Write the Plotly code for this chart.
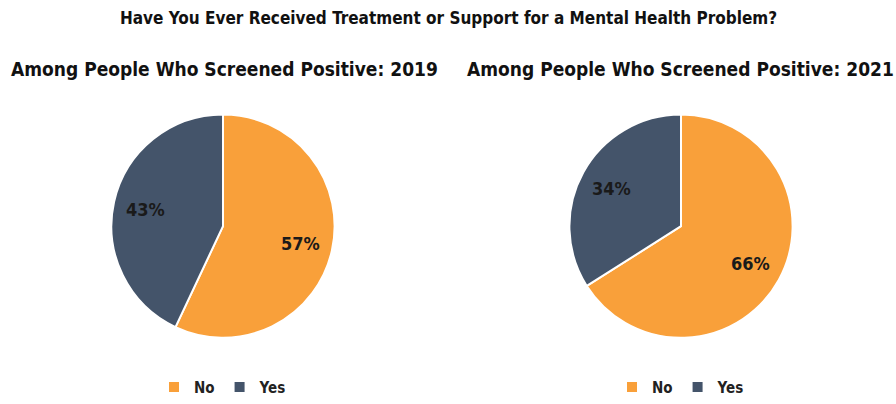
import math
import plotly.graph_objects as go

labels = ["No", "Yes"]
values_2019 = [57, 43]
values_2021 = [66, 34]
colors = ["#F9A03A", "#44546A"]
title = "Have You Ever Received Treatment or Support for a Mental Health Problem?"
sub_2019 = "Among People Who Screened Positive: 2019"
sub_2021 = "Among People Who Screened Positive: 2021"

FONT = "DejaVu Sans Condensed, Liberation Sans Narrow, sans-serif"
W, H = 896, 404
R = 113
CY = 229
LABEL_R = 0.7


def dom(cx, cy, r):
    return dict(x=[(cx - r) / W, (cx + r) / W], y=[1 - (cy + r) / H, 1 - (cy - r) / H])


def pct_annotations(values, cx, cy, r):
    total = sum(values)
    out = []
    start = 0.0
    for v in values:
        frac = v / total
        mid = (start + frac / 2) * 2 * math.pi
        x = cx + LABEL_R * r * math.sin(mid)
        y = cy - LABEL_R * r * math.cos(mid)
        out.append(dict(text="<b>%d%%</b>" % round(frac * 100), x=x / W, y=1 - y / H,
                        xref="paper", yref="paper", showarrow=False,
                        xanchor="center", yanchor="middle",
                        font=dict(family=FONT, size=18, color="#1a1a1a")))
        start += frac
    return out


pies = [(values_2019, 223, "legend", ""), (values_2021, 681, "legend2", "\u200b")]

fig = go.Figure()
annotations = []
for vals, cx, leg, suffix in pies:
    fig.add_trace(go.Pie(
        labels=[l + suffix for l in labels], values=vals, sort=False,
        direction="clockwise", rotation=0,
        marker=dict(colors=colors, line=dict(color="white", width=2)),
        textinfo="none", domain=dom(cx, CY, R), legend=leg,
        hoverinfo="label+percent",
    ))
    annotations += pct_annotations(vals, cx, CY, R)

legend_style = dict(orientation="h", xanchor="center", yanchor="middle",
                    font=dict(family=FONT, size=15, color="#222", weight="bold"),
                    bgcolor="rgba(0,0,0,0)", itemwidth=30)

annotations += [
    dict(text="<b>" + title + "</b>", x=0.5, y=1 - 18 / H, xref="paper", yref="paper",
         showarrow=False, xanchor="center", yanchor="middle",
         font=dict(family=FONT, size=17, color="#111")),
    dict(text="<b>" + sub_2019 + "</b>", x=224 / W, y=1 - 70 / H, xref="paper", yref="paper",
         showarrow=False, xanchor="center", yanchor="middle",
         font=dict(family=FONT, size=19, color="#111")),
    dict(text="<b>" + sub_2021 + "</b>", x=680 / W, y=1 - 70 / H, xref="paper", yref="paper",
         showarrow=False, xanchor="center", yanchor="middle",
         font=dict(family=FONT, size=19, color="#111")),
]

fig.update_layout(
    width=W, height=H, margin=dict(l=0, r=0, t=0, b=0),
    paper_bgcolor="white", plot_bgcolor="white",
    font=dict(family=FONT),
    legend=dict(x=223 / W, y=1 - 392 / H, **legend_style),
    legend2=dict(x=681 / W, y=1 - 392 / H, **legend_style),
    annotations=annotations,
)

fig.write_html("out.html")
